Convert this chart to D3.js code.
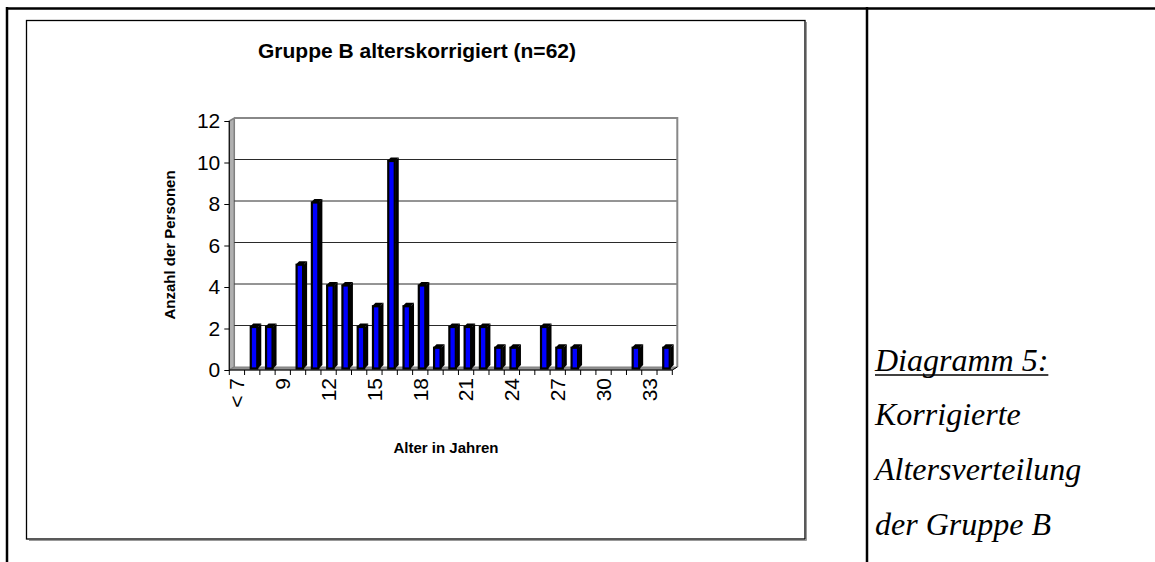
<!DOCTYPE html>
<html lang="de">
<head>
  <meta charset="utf-8">
  <title>Gruppe B alterskorrigiert</title>
  <script src="https://d3js.org/d3.v7.min.js"></script>
  <style>
    body { margin: 0; background: #fff; }
    svg { display: block; }
    .tick text { font-family: Arial, "Liberation Sans", sans-serif; fill: #000; }
    .side text { font-family: "Liberation Serif", "Times New Roman", serif; font-style: italic; }
  </style>
</head>
<body>
<div id="chart"></div>
<script>
  // Alterskategorien und Anzahl der Personen
  var categories = ["< 7", "7", "8", "9", "10", "11", "12", "13", "14", "15", "16", "17", "18", "19", "20",
                    "21", "22", "23", "24", "25", "26", "27", "28", "29", "30", "31", "32", "33", "34"];
  var counts = [0, 2, 2, 0, 5, 8, 4, 4, 2, 3, 10, 3, 4, 1, 2, 2, 2, 1, 1, 0, 2, 1, 1, 0, 0, 0, 1, 0, 1];
  var yTicks = [0, 2, 4, 6, 8, 10, 12];

  var W = 1155, H = 562;
  var svg = d3.select("#chart").append("svg")
      .attr("width", W)
      .attr("height", H);

  // page frame
  svg.append("line").attr("x1", 7).attr("y1", 8.5).attr("x2", W).attr("y2", 8.5)
      .attr("stroke", "#000").attr("stroke-width", 2.5);
  svg.append("line").attr("x1", 7).attr("y1", 7).attr("x2", 7).attr("y2", H)
      .attr("stroke", "#000").attr("stroke-width", 2.5);
  svg.append("line").attr("x1", 867).attr("y1", 7).attr("x2", 867).attr("y2", H)
      .attr("stroke", "#000").attr("stroke-width", 2.5);

  // chart area box with light shadow
  svg.append("path").attr("d", "M29,540.5H806.5V22")
      .attr("fill", "none").attr("stroke", "#999").attr("stroke-width", 1);
  svg.append("rect").attr("x", 26.5).attr("y", 20.5).attr("width", 778.5).attr("height", 518.5)
      .attr("fill", "#fff").attr("stroke", "#000").attr("stroke-width", 1.3);

  // 3D depth offset between front and back wall
  var dx = 5, dy = -3;
  var x0 = 229.3, x1 = 672.3;

  var x = d3.scaleBand().domain(categories).range([x0, x1]).padding(0);
  var yFront = d3.scaleLinear().domain([0, 12]).range([370, 121]);
  var yBack = d3.scaleLinear().domain([0, 12]).range([370 + dy, 121 + dy]);
  var yBar = d3.scaleLinear().domain([0, 12]).range([368.5, 119.5]);

  var g = svg.append("g");

  // left wall
  g.append("polygon")
      .attr("points", [[x0, yFront(0)], [x0 + dx, yBack(0)], [x0 + dx, yBack(12)], [x0, yFront(12)]].join(" "))
      .attr("fill", "#b0b0b0").attr("stroke", "#808080").attr("stroke-width", 1.5);

  // floor
  g.append("polygon")
      .attr("points", [[x0, yFront(0)], [x1, yFront(0)], [x1 + dx, yBack(0)], [x0 + dx, yBack(0)]].join(" "))
      .attr("fill", "#909090").attr("stroke", "#808080").attr("stroke-width", 1);

  // gridlines on the back wall
  g.selectAll(".grid")
      .data(yTicks.filter(function(d) { return d > 0 && d < 12; }))
      .enter().append("line")
      .attr("class", "grid")
      .attr("x1", x0 + dx).attr("x2", x1 + dx)
      .attr("y1", function(d) { return yBack(d); })
      .attr("y2", function(d) { return yBack(d); })
      .attr("stroke", "#2a2a2a").attr("stroke-width", 1);

  // back wall border (top + right)
  g.append("path")
      .attr("d", "M" + (x0 + dx) + "," + yBack(12) + "H" + (x1 + dx) + "V" + yBack(0))
      .attr("fill", "none").attr("stroke", "#888").attr("stroke-width", 2);

  // front axis lines
  g.append("line").attr("x1", x0).attr("x2", x0).attr("y1", yFront(0)).attr("y2", yFront(12))
      .attr("stroke", "#000").attr("stroke-width", 1);
  g.append("line").attr("x1", x0).attr("x2", x1).attr("y1", yFront(0)).attr("y2", yFront(0))
      .attr("stroke", "#000").attr("stroke-width", 1);
  g.append("line").attr("x1", x1).attr("x2", x1 + dx).attr("y1", yFront(0)).attr("y2", yBack(0))
      .attr("stroke", "#000").attr("stroke-width", 1);

  // bars (side face, top face, front face)
  var bw = x.bandwidth();
  var fw = 8, dd = 3.5;
  var bars = g.selectAll(".bar")
      .data(categories.map(function(c, i) { return {cat: c, val: counts[i]}; })
      .filter(function(d) { return d.val > 0; }))
      .enter().append("g").attr("class", "bar");

  bars.append("polygon")
      .attr("points", function(d) {
        var bx = x(d.cat) + bw * 0.34 + fw, yt = yBar(d.val), yb = yBar(0);
        return [[bx, yt], [bx + dd, yt - dd], [bx + dd, yb - dd], [bx, yb]].join(" ");
      })
      .attr("fill", "#000");
  bars.append("polygon")
      .attr("points", function(d) {
        var bx = x(d.cat) + bw * 0.34, yt = yBar(d.val);
        return [[bx, yt], [bx + dd, yt - dd], [bx + fw + dd, yt - dd], [bx + fw, yt]].join(" ");
      })
      .attr("fill", "#000");
  bars.append("rect")
      .attr("x", function(d) { return x(d.cat) + bw * 0.34 + 1; })
      .attr("y", function(d) { return yBar(d.val); })
      .attr("width", fw - 1.5)
      .attr("height", function(d) { return yBar(0) - yBar(d.val); })
      .attr("fill", "#0000ff")
      .attr("stroke", "#000").attr("stroke-width", 2.2);

  // y axis
  var yAxis = g.append("g")
      .attr("transform", "translate(" + x0 + ",0)")
      .call(d3.axisLeft(yFront).tickValues(yTicks).tickSize(5).tickPadding(4));
  yAxis.select(".domain").remove();
  yAxis.selectAll("text").style("font-size", "21px");

  // x axis: boundary ticks
  var bounds = categories.map(function(c) { return x(c); }).concat([x1]);
  g.selectAll(".xtick")
      .data(bounds)
      .enter().append("line")
      .attr("class", "xtick")
      .attr("x1", function(d) { return d; }).attr("x2", function(d) { return d; })
      .attr("y1", yFront(0)).attr("y2", yFront(0) + 5)
      .attr("stroke", "#000").attr("stroke-width", 1);

  // x axis labels, every third category
  var xAxis = g.append("g")
      .attr("transform", "translate(0," + yFront(0) + ")")
      .call(d3.axisBottom(x)
        .tickValues(categories.filter(function(c, i) { return i % 3 === 0; }))
        .tickSize(0));
  xAxis.select(".domain").remove();
  xAxis.selectAll("text")
      .style("font-size", "21px")
      .style("text-anchor", "end")
      .attr("dy", "0.35em")
      .attr("transform", "translate(0,8) rotate(-90)")
      .attr("x", 0).attr("y", 0);

  // titles
  svg.append("text")
      .attr("x", 417).attr("y", 58)
      .attr("text-anchor", "middle")
      .style("font-family", "Arial, 'Liberation Sans', sans-serif")
      .style("font-weight", "bold").style("font-size", "21px")
      .text("Gruppe B alterskorrigiert (n=62)");

  svg.append("text")
      .attr("x", 446).attr("y", 453)
      .attr("text-anchor", "middle")
      .style("font-family", "Arial, 'Liberation Sans', sans-serif")
      .style("font-weight", "bold").style("font-size", "15px")
      .text("Alter in Jahren");

  svg.append("text")
      .attr("transform", "translate(175,245) rotate(-90)")
      .attr("text-anchor", "middle")
      .style("font-family", "Arial, 'Liberation Sans', sans-serif")
      .style("font-weight", "bold").style("font-size", "15px")
      .text("Anzahl der Personen");

  // caption in the right column
  var captionLines = ["Diagramm 5:", "Korrigierte", "Altersverteilung", "der Gruppe B"];
  var captionY = [371, 425, 480, 535];
  var cap = svg.append("g").attr("class", "side")
      .attr("transform", "translate(875,0)");
  cap.selectAll("text")
      .data(captionLines)
      .enter().append("text")
      .attr("x", 0)
      .attr("y", function(d, i) { return captionY[i]; })
      .style("font-size", "32px")
      .text(function(d) { return d; });
  var firstLen = cap.select("text").node().getComputedTextLength();
  cap.append("line")
      .attr("x1", 0).attr("x2", firstLen)
      .attr("y1", 375).attr("y2", 375)
      .attr("stroke", "#000").attr("stroke-width", 1.5);
</script>
</body>
</html>
